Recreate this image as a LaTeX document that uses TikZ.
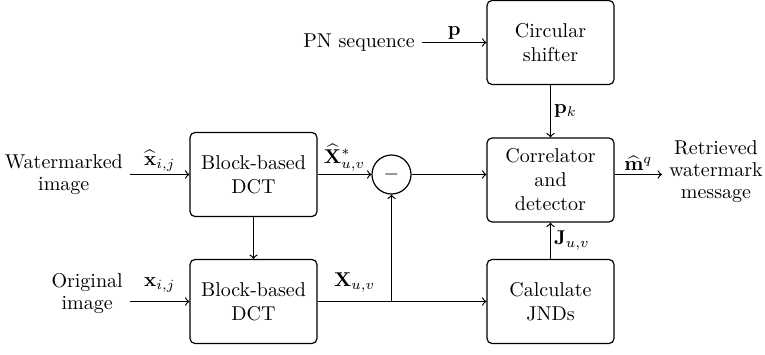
\documentclass[tikz,border=0pt]{standalone}
\usepackage{amsmath}
\usepackage{amssymb}
\usetikzlibrary{positioning,arrows}
\tikzset{blk/.style={draw, rounded corners=2.5pt, minimum width=63.5pt, minimum height=42pt, align=center, inner sep=1pt}}
\tikzset{txt/.style={align=center, font=\fontsize{10}{11}\selectfont}}
\tikzset{lbl/.style={inner sep=1.5pt}}

\begin{document}
\begin{tikzpicture}[x=0.5pt,y=-0.5pt, line width=0.6pt, >=to]
\useasboundingbox (0,0) rectangle (765,354);
% blocks
\node[blk] (dcta) at (253.5,174.5) {Block-based\\DCT};
\node[blk] (dctb) at (253.5,301.5) {Block-based\\DCT};
\node[blk] (shift) at (550.5,42.5) {Circular\\shifter};
\node[blk] (corr) at (550.5,180) {Correlator\\and\\detector};
\node[blk] (jnd) at (550.5,301.5) {Calculate\\JNDs};
\node[draw, circle, minimum size=19.5pt, inner sep=0pt] (sub) at (391.5,174.5) {$-$};
% inputs and output
\node[txt, anchor=east] (wm) at (130,174.5) {Watermarked\\image};
\node[txt, anchor=east] (orig) at (130,294) {Original\\image};
\node[txt, anchor=east] (pn) at (422,42.5) {PN sequence};
\node[txt, anchor=west] (out) at (662,172) {Retrieved\\watermark\\message};
\coordinate (br) at (sub |- dctb);
% connectors
\draw[->] (pn) -- node[lbl, above] (lp) {$\mathbf{p}$} (shift);
\draw[->] (wm.east |- dcta) -- node[lbl, above] (lxh) {$\widehat{\mathbf{x}}_{i,j}$} (dcta);
\draw[->] (orig.east |- dctb) -- node[lbl, above=3pt] (lx) {$\mathbf{x}_{i,j}$} (dctb);
\draw[->] (dcta) -- node[lbl, above] (lXh) {$\widehat{\mathbf{X}}^{*}_{u,v}$} (sub);
\draw[->] (dcta) -- (dctb);
\draw (dctb) -- node[lbl, above=3pt] (lX) {$\mathbf{X}_{u,v}$} (br);
\draw[->] (br) -- (jnd);
\draw[->] (br) -- (sub);
\draw[->] (sub) -- (sub -| corr.west);
\draw[->] (shift) -- node[lbl, right] (lpk) {$\mathbf{p}_k$} (corr);
\draw[->] (jnd) -- node[lbl, right] (lJ) {$\mathbf{J}_{u,v}$} (corr);
\draw[->] (sub -| corr.east) -- node[lbl, above] (lm) {$\widehat{\mathbf{m}}^{q}$} (sub -| out.west);
\end{tikzpicture}
\end{document}
